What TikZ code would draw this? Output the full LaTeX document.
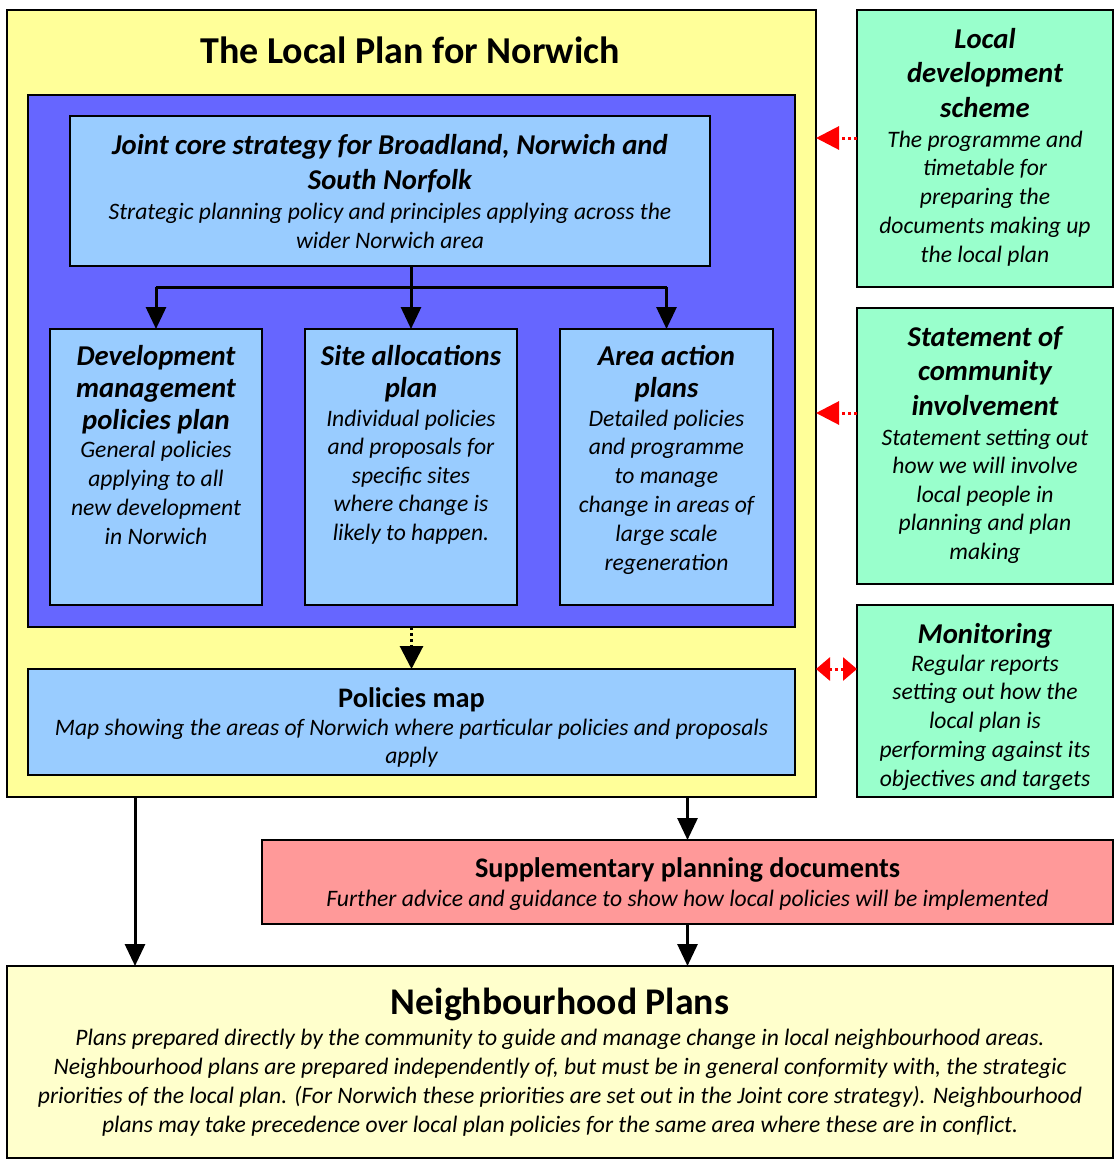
\documentclass[tikz,border=0pt]{standalone}
\usepackage{fontspec}
\setmainfont{Carlito}
\usetikzlibrary{arrows.meta}
\definecolor{lpyellow}{HTML}{FFFF99}
\definecolor{dkblue}{HTML}{6666FF}
\definecolor{ltblue}{HTML}{99CCFF}
\definecolor{ltgreen}{HTML}{99FFCC}
\definecolor{pink}{HTML}{FF9999}
\definecolor{paleyellow}{HTML}{FFFFCC}
\definecolor{arrred}{HTML}{FF0000}
\begin{document}
\begin{tikzpicture}[x=1pt,y=-1pt,
  box/.style={draw=black, line width=1.5pt, inner sep=0pt, outer sep=0pt, rectangle},
  blk/.style={inner sep=0pt, align=center, anchor=base},
  hbi/.style={blk, font=\fontsize{28.7}{34.5}\selectfont\bfseries\itshape},
  hb/.style={blk, font=\fontsize{28.3}{34}\selectfont\bfseries},
  bi/.style={blk, font=\fontsize{23.6}{29}\selectfont\itshape},
  arr/.style={draw=black, line width=3pt, -{Triangle[length=22pt,width=20pt]}},
  dotarr/.style={draw=black, line width=3pt, dash pattern=on 3pt off 3pt, -{Triangle[length=23pt,width=23pt]}},
  redarr/.style={draw=arrred, line width=3pt, dash pattern=on 3pt off 3pt, -{Triangle[length=23pt,width=23pt]}},
  redarr2/.style={draw=arrred, line width=3pt, dash pattern=on 3pt off 3pt, {Triangle[length=14pt,width=23pt]}-{Triangle[length=14pt,width=23pt]}}
]
\useasboundingbox[fill=white] (0,0) rectangle (1115,1160);

% boxes
\node[box, fill=lpyellow, minimum width=809pt, minimum height=787pt] (lp) at (411.5,403.5) {};
\node[box, fill=dkblue, minimum width=767pt, minimum height=532pt] (blue) at (411.5,361) {};
\node[box, fill=ltblue, minimum width=640pt, minimum height=150pt] (jcs) at (390,191) {};
\node[box, fill=ltblue, minimum width=212pt, minimum height=276pt] (dm) at (156,467) {};
\node[box, fill=ltblue, minimum width=212pt, minimum height=276pt] (sa) at (411,467) {};
\node[box, fill=ltblue, minimum width=213pt, minimum height=276pt] (aa) at (666.5,467) {};
\node[box, fill=ltblue, minimum width=767pt, minimum height=106pt] (pm) at (411.5,722) {};
\node[box, fill=ltgreen, minimum width=256pt, minimum height=277pt] (lds) at (985,148.5) {};
\node[box, fill=ltgreen, minimum width=256pt, minimum height=276pt] (sci) at (985,446) {};
\node[box, fill=ltgreen, minimum width=256pt, minimum height=192pt] (mon) at (985,701) {};
\node[box, fill=pink, minimum width=851pt, minimum height=84pt] (spd) at (687.5,882) {};
\node[box, fill=paleyellow, minimum width=1106pt, minimum height=192pt] (nbp) at (560,1062) {};

% texts (anchor base = baseline of last line)
\node[blk, font=\fontsize{38}{46}\selectfont\bfseries] (title) at (410,63) {The Local Plan for Norwich};

\node[hbi, font=\fontsize{28.7}{35}\selectfont\bfseries\itshape] (jcsh) at (390,189) {Joint core strategy for Broadland, Norwich and\\South Norfolk};
\node[bi] (jcsb) at (390,248) {Strategic planning policy and principles applying across the\\wider Norwich area};

\node[hbi, font=\fontsize{28.7}{32}\selectfont\bfseries\itshape] (dmh) at (156,429) {Development\\management\\policies plan};
\node[bi] (dmb) at (156,544) {General policies\\applying to all\\new development\\in Norwich};

\node[hbi, font=\fontsize{28.7}{32}\selectfont\bfseries\itshape] (sah) at (411,397) {Site allocations\\plan};
\node[bi, font=\fontsize{23.6}{28.5}\selectfont\itshape] (sab) at (411,540) {Individual policies\\and proposals for\\specific sites\\where change is\\likely to happen.};

\node[hbi, font=\fontsize{28.7}{32}\selectfont\bfseries\itshape] (aah) at (666.5,397) {Area action\\plans};
\node[bi, font=\fontsize{23.6}{28.8}\selectfont\itshape] (aab) at (666.5,570) {Detailed policies\\and programme\\to manage\\change in areas of\\large scale\\regeneration};

\node[hbi] (ldsh) at (985,117) {Local\\development\\scheme};
\node[bi, font=\fontsize{23.6}{28.75}\selectfont\itshape] (ldsb) at (985,262) {The programme and\\timetable for\\preparing the\\documents making up\\the local plan};

\node[hbi] (scih) at (985,415) {Statement of\\community\\involvement};
\node[bi, font=\fontsize{23.6}{28.5}\selectfont\itshape] (scib) at (985,559) {Statement setting out\\how we will involve\\local people in\\planning and plan\\making};

\node[hbi] (monh) at (985,643) {Monitoring};
\begin{scope}
\clip (mon.north west) rectangle ([yshift=7pt]mon.south east);
\node[bi, font=\fontsize{23.6}{28.75}\selectfont\itshape] (monb) at (985,786) {Regular reports\\setting out how the\\local plan is\\performing against its\\objectives and targets};
\end{scope}

\node[hb] (pmh) at (411.5,707) {Policies map};
\begin{scope}
\clip (pm.north west) rectangle ([yshift=9pt]pm.south east);
\node[bi, font=\fontsize{23.6}{28}\selectfont\itshape] (pmb) at (411.5,763) {Map showing the areas of Norwich where particular policies and proposals\\apply};
\end{scope}

\node[hb] (spdh) at (687.5,877) {Supplementary planning documents};
\node[bi] (spdb) at (687.5,906) {Further advice and guidance to show how local policies will be implemented};

\node[blk, font=\fontsize{37.7}{45}\selectfont\bfseries] (nbph) at (560,1014) {Neighbourhood Plans};
\node[bi] (nbpb) at (560,1132) {Plans prepared directly by the community to guide and manage change in local neighbourhood areas.\\Neighbourhood plans are prepared independently of, but must be in general conformity with, the strategic\\priorities of the local plan. (For Norwich these priorities are set out in the Joint core strategy). Neighbourhood\\plans may take precedence over local plan policies for the same area where these are in conflict.};

% connectors
\coordinate (jcsout) at (jcs.south -| sa.north);
\coordinate (br) at (411,287);
\draw[line width=3pt] (dm.north |- br) -- (aa.north |- br);
\draw[arr] (jcsout) -- (sa.north);
\draw[arr] (dm.north |- br) -- (dm.north);
\draw[arr] (aa.north |- br) -- (aa.north);
\draw[dotarr] (blue.south) -- (pm.north);

\draw[redarr] (lds.west |- 0,138) -- (lp.east |- 0,138);
\draw[redarr] (sci.west |- 0,413) -- (lp.east |- 0,413);
\draw[redarr2] (lp.east |- 0,669) -- (mon.west |- 0,669);

\draw[arr] (lp.south -| 135,0) -- (nbp.north -| 135,0);
\draw[arr] (lp.south -| spd.north) -- (spd.north);
\draw[arr] (spd.south) -- (nbp.north -| spd.south);
\end{tikzpicture}
\end{document}
